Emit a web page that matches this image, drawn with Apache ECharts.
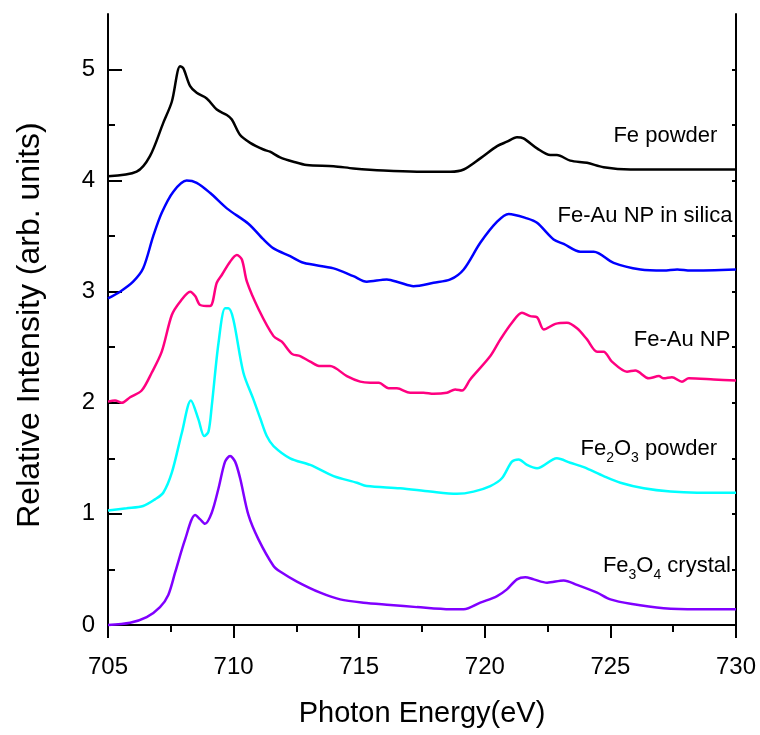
<!DOCTYPE html>
<html>
<head>
<meta charset="utf-8">
<script src="https://cdn.jsdelivr.net/npm/echarts@6/dist/echarts.min.js"></script>
<style>
  html, body { margin: 0; padding: 0; background: #fff; }
  #chart { width: 760px; height: 735px; }
</style>
</head>
<body>
<div id="chart"></div>
<script>
// Fe L-edge XAS spectra, [photon energy (eV), relative intensity]
const fePowder = [
  [705.0, 4.04], [706.14, 4.08], [706.67, 4.22], [707.2, 4.52], [707.54, 4.71], [707.87, 5.03],
  [708.0, 5.01], [708.27, 4.85], [708.53, 4.79], [708.93, 4.74], [709.33, 4.64], [709.73, 4.59],
  [709.93, 4.55], [710.26, 4.41], [710.66, 4.34], [711.19, 4.28], [711.45, 4.26], [711.85, 4.21],
  [712.38, 4.17], [712.91, 4.14], [713.98, 4.13], [714.77, 4.11], [715.97, 4.09], [717.3, 4.08],
  [718.63, 4.08], [719.16, 4.10], [719.82, 4.20], [720.49, 4.31], [720.88, 4.35], [721.28, 4.39],
  [721.54, 4.38], [722.08, 4.29], [722.61, 4.23], [722.87, 4.23], [723.4, 4.18], [724.07, 4.16],
  [724.73, 4.12], [725.8, 4.10], [727.12, 4.10], [728.45, 4.10], [730.0, 4.10]
];
const feAuSilica = [
  [705.0, 2.94], [705.48, 3.00], [706.0, 3.09], [706.4, 3.21], [706.8, 3.50], [707.14, 3.71],
  [707.6, 3.90], [708.13, 4.00], [708.53, 3.98], [709.06, 3.89], [709.73, 3.75], [710.6, 3.61],
  [711.19, 3.47], [711.59, 3.39], [712.25, 3.32], [712.78, 3.26], [713.98, 3.21], [714.77, 3.14],
  [715.3, 3.09], [716.1, 3.11], [716.63, 3.08], [717.16, 3.05], [717.96, 3.08], [718.63, 3.11],
  [719.16, 3.20], [719.82, 3.44], [720.49, 3.63], [720.95, 3.70], [721.68, 3.66], [722.08, 3.62],
  [722.74, 3.47], [723.14, 3.43], [723.8, 3.36], [724.34, 3.36], [725.13, 3.26], [726.2, 3.20],
  [727.12, 3.19], [727.66, 3.20], [728.19, 3.19], [730.0, 3.20]
];
const feAuNP = [
  [705.0, 2.01], [705.28, 2.02], [705.55, 2.00], [705.88, 2.05], [706.34, 2.11], [706.74, 2.27],
  [707.14, 2.46], [707.54, 2.79], [707.87, 2.91], [708.27, 3.00], [708.47, 2.96], [708.67, 2.88],
  [709.06, 2.87], [709.33, 3.08], [709.53, 3.15], [709.86, 3.27], [710.13, 3.33], [710.33, 3.29],
  [710.53, 3.09], [711.0, 2.84], [711.59, 2.60], [711.92, 2.55], [712.32, 2.44], [712.65, 2.42],
  [713.05, 2.37], [713.45, 2.33], [713.84, 2.33], [714.51, 2.24], [715.04, 2.19], [715.44, 2.18],
  [715.78, 2.18], [716.17, 2.13], [716.5, 2.13], [717.03, 2.09], [717.56, 2.09], [717.96, 2.08],
  [718.49, 2.09], [718.82, 2.12], [719.09, 2.11], [719.42, 2.21], [720.22, 2.42], [720.62, 2.57],
  [721.08, 2.72], [721.48, 2.81], [721.81, 2.78], [722.08, 2.77], [722.35, 2.66], [722.81, 2.71],
  [723.27, 2.72], [723.67, 2.67], [724.07, 2.57], [724.47, 2.46], [724.73, 2.46], [725.06, 2.37],
  [725.66, 2.28], [725.99, 2.29], [726.53, 2.22], [726.93, 2.24], [727.12, 2.22], [727.45, 2.23],
  [727.85, 2.19], [728.12, 2.22], [729.11, 2.21], [730.0, 2.20]
];
const fe2o3Powder = [
  [705.0, 1.03], [705.74, 1.05], [706.4, 1.07], [706.87, 1.13], [707.2, 1.19], [707.54, 1.37],
  [707.94, 1.73], [708.3, 2.02], [708.6, 1.85], [708.83, 1.70], [709.0, 1.74], [709.13, 1.97],
  [709.4, 2.54], [709.66, 2.85], [709.79, 2.85], [709.99, 2.75], [710.39, 2.27], [710.79, 2.03],
  [711.06, 1.86], [711.32, 1.70], [711.59, 1.61], [712.25, 1.50], [713.05, 1.44], [713.98, 1.34],
  [714.91, 1.28], [715.3, 1.25], [716.63, 1.23], [717.83, 1.20], [718.89, 1.18], [719.55, 1.20],
  [720.22, 1.25], [720.68, 1.32], [721.08, 1.47], [721.35, 1.49], [721.68, 1.44], [722.08, 1.41],
  [722.87, 1.50], [723.4, 1.46], [723.94, 1.42], [724.73, 1.34], [725.4, 1.28], [726.33, 1.23],
  [727.39, 1.20], [728.45, 1.19], [730.0, 1.19]
];
const fe3o4Crystal = [
  [705.0, 0.00], [705.88, 0.02], [706.54, 0.07], [707.07, 0.16], [707.4, 0.27], [707.67, 0.47],
  [708.07, 0.77], [708.47, 0.99], [708.67, 0.95], [708.86, 0.91], [709.13, 1.01], [709.4, 1.23],
  [709.66, 1.47], [709.86, 1.52], [710.06, 1.47], [710.26, 1.32], [710.59, 0.99], [710.99, 0.77],
  [711.59, 0.53], [711.85, 0.48], [712.52, 0.39], [713.45, 0.29], [714.24, 0.23], [715.17, 0.20],
  [716.24, 0.18], [717.3, 0.16], [718.63, 0.14], [719.16, 0.14], [719.82, 0.20], [720.49, 0.26],
  [720.88, 0.32], [721.28, 0.41], [721.61, 0.43], [721.95, 0.41], [722.48, 0.38], [723.14, 0.40],
  [723.67, 0.36], [724.47, 0.29], [725.0, 0.23], [725.8, 0.19], [727.12, 0.15], [728.45, 0.14],
  [730.0, 0.14]
];

const seriesNames = ['Fe powder', 'Fe-Au NP in silica', 'Fe-Au NP', 'Fe2O3 powder', 'Fe3O4 crystal'];
const seriesLabels = [
  'Fe powder',
  'Fe-Au NP in silica',
  'Fe-Au NP',
  'Fe{s|2}O{s|3} powder',
  'Fe{s|3}O{s|4} crystal'
];
// label anchor (right edge, vertical centre) in data units
const labelAnchors = [[729.26, 4.40], [729.86, 3.68], [729.78, 2.57], [729.25, 1.58], [729.8, 0.53]];
const seriesData = [fePowder, feAuSilica, feAuNP, fe2o3Powder, fe3o4Crystal];
const colors = ['#000000', '#0000ff', '#ff0080', '#00ffff', '#8000ff'];

const yLabelValues = [0, 1, 2, 3, 4, 5];
const yMinorValues = [0.5, 1.5, 2.5, 3.5, 4.5];
const yRightValues = [0, 0.5, 1, 1.5, 2, 2.5, 3, 3.5, 4, 4.5, 5];

const FONT = 'Liberation Sans, Arial, sans-serif';
const chart = echarts.init(document.getElementById('chart'));

const axisLineStyle = { color: '#000', width: 2 };

chart.setOption({
  animation: false,
  grid: { left: 108, right: 24, top: 14, bottom: 99 },
  xAxis: [
    {
      type: 'value', min: 705, max: 730, interval: 5,
      name: 'Photon Energy(eV)', nameLocation: 'middle', nameGap: 63,
      nameTextStyle: { fontFamily: FONT, fontSize: 29, color: '#000' },
      axisLine: { lineStyle: axisLineStyle },
      axisTick: { inside: false, length: 13, lineStyle: axisLineStyle },
      minorTick: { show: true, splitNumber: 2, length: 7, lineStyle: axisLineStyle },
      axisLabel: { fontFamily: FONT, fontSize: 24, color: '#000', margin: 19 },
      splitLine: { show: false }
    },
    {
      type: 'value', position: 'top', min: 705, max: 730, interval: 2.5,
      axisLine: { lineStyle: axisLineStyle },
      axisTick: { inside: true, length: 4, lineStyle: axisLineStyle },
      axisLabel: { show: false },
      splitLine: { show: false }
    }
  ],
  yAxis: [
    {
      type: 'value', position: 'left', min: -0.1, max: 5.5,
      name: 'Relative Intensity (arb. units)', nameLocation: 'middle', nameGap: 62,
      nameTextStyle: { fontFamily: FONT, fontSize: 32, color: '#000' },
      axisLine: { lineStyle: axisLineStyle },
      axisTick: { inside: true, length: 14, customValues: yLabelValues, lineStyle: axisLineStyle },
      axisLabel: { customValues: yLabelValues, fontFamily: FONT, fontSize: 24, color: '#000', margin: 13 },
      splitLine: { show: false }
    },
    {
      type: 'value', position: 'left', min: -0.1, max: 5.5,
      axisLine: { show: false },
      axisTick: { inside: true, length: 7, customValues: yMinorValues, lineStyle: axisLineStyle },
      axisLabel: { show: false },
      splitLine: { show: false }
    },
    {
      type: 'value', position: 'right', min: -0.1, max: 5.5,
      axisLine: { show: true, lineStyle: axisLineStyle },
      axisTick: { show: true, inside: true, length: 4, customValues: yRightValues, lineStyle: axisLineStyle },
      axisLabel: { show: false },
      splitLine: { show: false }
    }
  ],
  series: seriesData.map((data, i) => ({
    name: seriesNames[i],
    type: 'line',
    xAxisIndex: 0,
    yAxisIndex: 0,
    data: data,
    smooth: 0.3,
    showSymbol: false,
    lineStyle: { color: colors[i], width: 2.5 },
    markPoint: {
      symbol: 'circle',
      symbolSize: 0.1,
      itemStyle: { color: 'transparent' },
      data: [{ coord: labelAnchors[i] }],
      label: {
        show: true,
        position: 'left',
        distance: 0,
        formatter: seriesLabels[i],
        fontFamily: FONT,
        fontSize: 22,
        color: '#000',
        lineHeight: 32,
        rich: {
          s: { fontFamily: FONT, fontSize: 14, lineHeight: 14, verticalAlign: 'bottom', color: '#000' }
        }
      }
    }
  }))
});
</script>
</body>
</html>
